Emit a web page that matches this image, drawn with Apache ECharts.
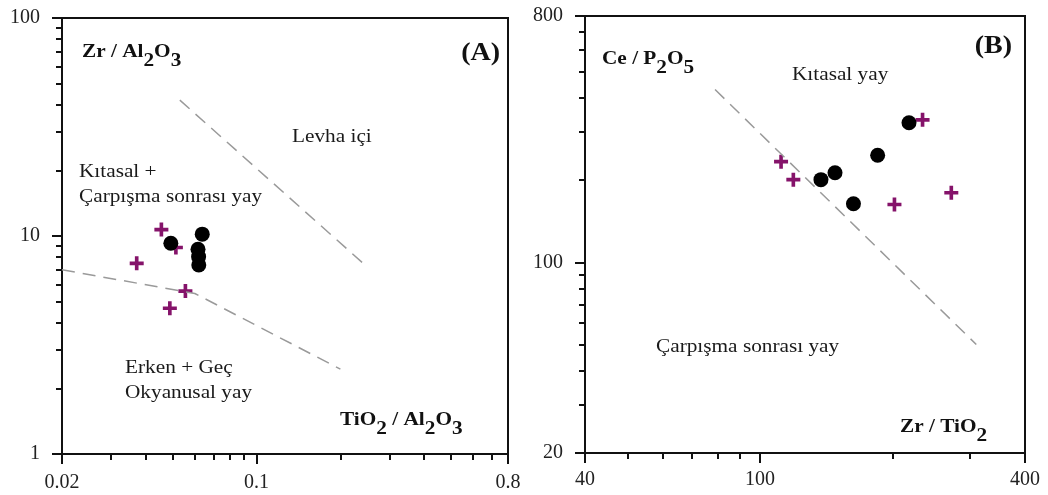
<!DOCTYPE html>
<html>
<head>
<meta charset="utf-8">
<script src="https://cdn.jsdelivr.net/npm/echarts@6/dist/echarts.min.js"></script>
<style>
  html, body { margin: 0; padding: 0; background: #fff; }
  #main { width: 1048px; height: 495px; }
</style>
</head>
<body>
<div id="main"></div>
<script>
// ---- panel (A): Zr/Al2O3 vs TiO2/Al2O3 ----
const aCrossX = [0.0455, 0.0513, 0.0371, 0.0555, 0.0488]
const aCrossY = [10.7, 8.86, 7.49, 5.59, 4.66]
const aDotX = [0.0492, 0.0638, 0.0616, 0.0619, 0.0620]
const aDotY = [9.26, 10.2, 8.69, 8.04, 7.36]
const aUpperLineX = [0.053, 0.25]
const aUpperLineY = [42, 7.2]
const aLowerLineX = [0.02, 0.06, 0.2]
const aLowerLineY = [7.0, 5.45, 2.45]
const aXMajor = [0.02, 0.1, 0.8]
const aXMinor = [0.03, 0.04, 0.05, 0.06, 0.07, 0.08, 0.09, 0.2, 0.3, 0.4, 0.5, 0.6, 0.7]
const aYMajor = [1, 10, 100]
const aYMinor = [2, 3, 4, 5, 6, 7, 8, 9, 20, 30, 40, 50, 60, 70, 80, 90]

// ---- panel (B): Ce/P2O5 vs Zr/TiO2 ----
const bCrossX = [111.6, 119, 234, 202, 272]
const bCrossY = [234, 201, 333, 163, 180]
const bDotX = [137.5, 148, 163, 185, 218]
const bDotY = [201, 213, 164, 247, 325]
const bLineX = [79, 310]
const bLineY = [430, 50]
const bXMajor = [40, 100, 400]
const bXMinor = [50, 60, 70, 80, 90, 200, 300]
const bYMajor = [20, 100, 800]
const bYMinor = [30, 40, 50, 60, 70, 80, 90, 200, 300, 400, 500, 600, 700]

const FONT = 'Liberation Serif'
const CROSS = 'path://M-1.3,-5H1.3V-1.3H5V1.3H1.3V5H-1.3V1.3H-5V-1.3H-1.3Z'
const PURPLE = '#85136a'

function pairs (xs, ys) {
  return xs.map((x, i) => [x, ys[i]])
}

// major axis (line + long ticks + labels) and a twin for minor ticks
function axisPair (dim, grid, min, max, major, minor, labelMargin) {
  const pos = dim === 'x' ? 'bottom' : 'left'
  return [
    {
      type: 'log', logBase: 10, gridIndex: grid, position: pos, min: min, max: max,
      axisLine: { show: true, lineStyle: { color: '#111', width: 2 } },
      axisTick: { show: true, customValues: major, length: 10, lineStyle: { color: '#111', width: 2 } },
      axisLabel: {
        show: true, customValues: major, margin: labelMargin,
        color: '#222', fontFamily: FONT, fontSize: 20
      },
      splitLine: { show: false }
    },
    {
      type: 'log', logBase: 10, gridIndex: grid, position: pos, min: min, max: max,
      axisLine: { show: false },
      axisTick: { show: true, customValues: minor, length: 6, lineStyle: { color: '#111', width: 2 } },
      axisLabel: { show: false },
      splitLine: { show: false }
    }
  ]
}

function dashed (xi, yi, data) {
  return {
    type: 'line', xAxisIndex: xi, yAxisIndex: yi, data: data, silent: true,
    showSymbol: false, symbol: 'none',
    lineStyle: { color: '#9a9a9a', width: 1.5, type: [13, 8] }
  }
}
function crosses (xi, yi, data) {
  return {
    type: 'scatter', xAxisIndex: xi, yAxisIndex: yi, data: data,
    symbol: CROSS, symbolSize: 14, itemStyle: { color: PURPLE, opacity: 1 }
  }
}
function dots (xi, yi, data) {
  return {
    type: 'scatter', xAxisIndex: xi, yAxisIndex: yi, data: data,
    symbol: 'circle', symbolSize: 15, itemStyle: { color: '#000', opacity: 1 }
  }
}

const main = { fontFamily: FONT, fontSize: 19, fontWeight: 'bold', fill: '#111', verticalAlign: 'top', lineHeight: 26 }
const sub = { fontFamily: FONT, fontSize: 19, fontWeight: 'bold', fill: '#111', verticalAlign: 'top', lineHeight: 26, padding: [9, 0, 0, 0] }

function label (x, y, text, opts) {
  return {
    type: 'text', x: x, y: y, scaleX: 1.12,
    style: Object.assign({
      text: text, fontFamily: FONT, fontSize: 19, fill: '#1a1a1a',
      textAlign: 'left', textVerticalAlign: 'middle', lineHeight: 25
    }, opts || {})
  }
}
function richLabel (x, y, text) {
  return {
    type: 'text', x: x, y: y, scaleX: 1.12,
    style: { text: text, rich: { m: main, s: sub }, textAlign: 'left', textVerticalAlign: 'top' }
  }
}

const option = {
  backgroundColor: '#fff',
  animation: false,
  grid: [
    { left: 62, top: 18, width: 446, height: 436, show: true, borderColor: '#111', borderWidth: 2 },
    { left: 585, top: 16, width: 440, height: 437, show: true, borderColor: '#111', borderWidth: 2 }
  ],
  xAxis: [].concat(
    axisPair('x', 0, 0.02, 0.8, aXMajor, aXMinor, 19),
    axisPair('x', 1, 40, 400, bXMajor, bXMinor, 17)
  ),
  yAxis: [].concat(
    axisPair('y', 0, 1, 100, aYMajor, aYMinor, 22),
    axisPair('y', 1, 20, 800, bYMajor, bYMinor, 22)
  ),
  series: [
    dashed(0, 0, pairs(aUpperLineX, aUpperLineY)),
    dashed(0, 0, pairs(aLowerLineX, aLowerLineY)),
    crosses(0, 0, pairs(aCrossX, aCrossY)),
    dots(0, 0, pairs(aDotX, aDotY)),
    dashed(2, 2, pairs(bLineX, bLineY)),
    crosses(2, 2, pairs(bCrossX, bCrossY)),
    dots(2, 2, pairs(bDotX, bDotY))
  ],
  graphic: [
    richLabel(82, 43, '{m|Zr / Al}{s|2}{m|O}{s|3}'),
    label(500, 54, '(A)', { fontSize: 25, fontWeight: 'bold', textAlign: 'right', fill: '#111' }),
    label(292, 137, 'Levha içi'),
    label(79, 172, 'Kıtasal +'),
    label(79, 197, 'Çarpışma sonrası yay'),
    label(125, 368, 'Erken + Geç'),
    label(125, 393, 'Okyanusal yay'),
    richLabel(340, 411, '{m|TiO}{s|2}{m| / Al}{s|2}{m|O}{s|3}'),

    richLabel(602, 50, '{m|Ce / P}{s|2}{m|O}{s|5}'),
    label(1012, 47, '(B)', { fontSize: 25, fontWeight: 'bold', textAlign: 'right', fill: '#111' }),
    label(792, 75, 'Kıtasal yay'),
    label(656, 347, 'Çarpışma sonrası yay'),
    richLabel(900, 418, '{m|Zr / TiO}{s|2}')
  ]
}

const myChart = echarts.init(document.getElementById('main'))
myChart.setOption(option)
</script>
</body>
</html>
